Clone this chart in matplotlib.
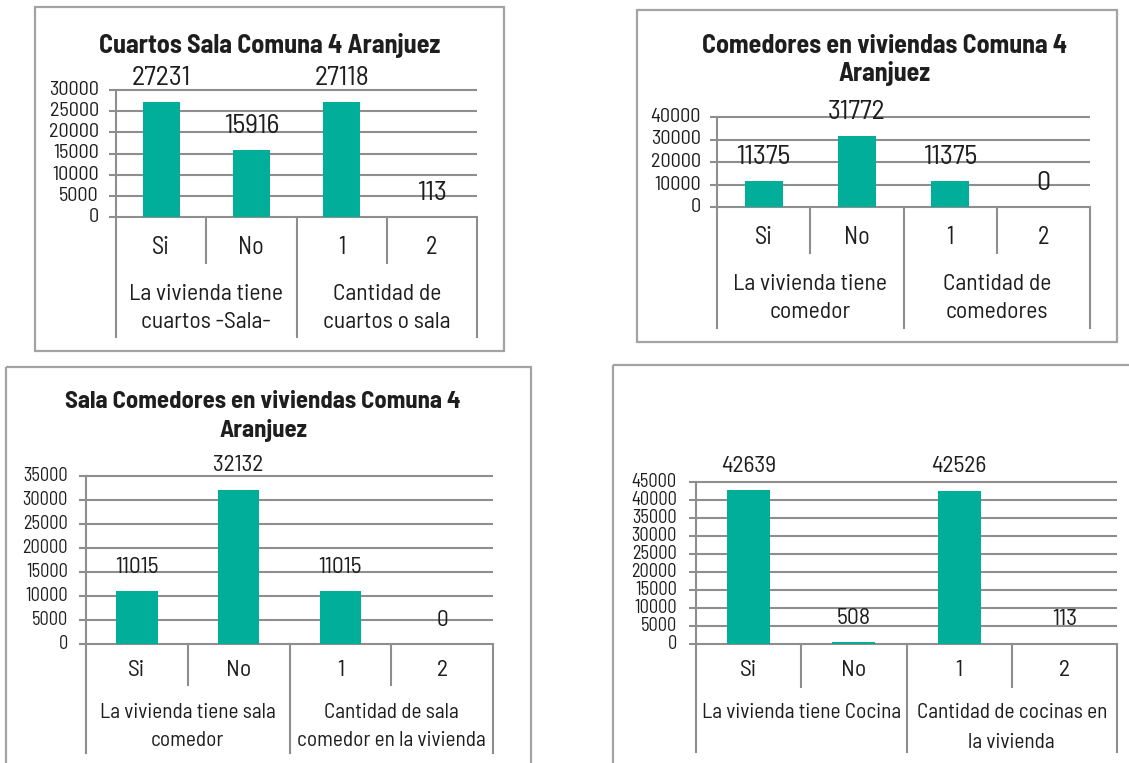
import matplotlib
matplotlib.use("Agg")
import matplotlib.pyplot as plt
from matplotlib.patches import Rectangle
from matplotlib.transforms import Affine2D, Bbox, TransformedBbox, blended_transform_factory

plt.rcParams['font.family'] = ['Barlow Semi Condensed', 'DejaVu Sans']

W, H = 1129, 763
TEAL = '#00AE9A'
GRID = '#8E8E8E'
EDGE = '#A3A3A3'
INK = '#1E1E1E'

# ---- data -------------------------------------------------------------
categories = ['Si', 'No', '1', '2']

cuartos_title = 'Cuartos Sala Comuna 4 Aranjuez'
cuartos_groups = ['La vivienda tiene\ncuartos -Sala-', 'Cantidad de\ncuartos o sala']
cuartos_values = [27231, 15916, 27118, 113]
cuartos_ticks = [0, 5000, 10000, 15000, 20000, 25000, 30000]

comedores_title = 'Comedores en viviendas Comuna 4\nAranjuez'
comedores_groups = ['La vivienda tiene\ncomedor', 'Cantidad de\ncomedores']
comedores_values = [11375, 31772, 11375, 0]
comedores_ticks = [0, 10000, 20000, 30000, 40000]

sala_title = 'Sala Comedores en viviendas Comuna 4\nAranjuez'
sala_groups = ['La vivienda tiene sala\ncomedor', 'Cantidad de sala\ncomedor en la vivienda']
sala_values = [11015, 32132, 11015, 0]
sala_ticks = [0, 5000, 10000, 15000, 20000, 25000, 30000, 35000]

cocina_title = ''
cocina_groups = ['La vivienda tiene Cocina', 'Cantidad de cocinas en\nla vivienda']
cocina_values = [42639, 508, 42526, 113]
cocina_ticks = [0, 5000, 10000, 15000, 20000, 25000, 30000, 35000, 40000, 45000]

# ---- layout (pixel units, origin top-left) ----------------------------
layouts = [
    dict(box=(35, 7, 504, 351), plot=(116, 477, 90, 217), tick_right=99,
         short=263, long=337, cat_y=247, grp_y=295, grp_dy=27,
         title_xy=(270, 45), title_dy=27, fs_tick=14.5, fs_val=20, fs_cat=17.5,
         fs_grp=17, fs_title=18.8, clip_top=None),
    dict(box=(637, 10, 1117, 342), plot=(717, 1090, 117, 207), tick_right=701,
         short=253, long=328, cat_y=238, grp_y=284, grp_dy=28,
         title_xy=(885, 46), title_dy=27, fs_tick=14.5, fs_val=20, fs_cat=17.5,
         fs_grp=17, fs_title=18.7, clip_top=100),
    dict(box=(6, 367, 531, 800), plot=(86, 493, 476, 644), tick_right=68,
         short=685, long=753, cat_y=670, grp_y=713, grp_dy=28,
         title_xy=(263, 402), title_dy=28, fs_tick=13.2, fs_val=16.8, fs_cat=17,
         fs_grp=15.3, fs_title=17.8, clip_top=None),
    dict(box=(613, 365, 1200, 800), plot=(696, 1117, 482, 644), tick_right=677,
         short=687, long=752, cat_y=671, grp_y=713, grp_dy=29,
         title_xy=(865, 400), title_dy=27, fs_tick=13.2, fs_val=17, fs_cat=17,
         fs_grp=15.4, fs_title=18, clip_top=None),
]

panels = [
    (cuartos_title, cuartos_groups, cuartos_values, cuartos_ticks),
    (comedores_title, comedores_groups, comedores_values, comedores_ticks),
    (sala_title, sala_groups, sala_values, sala_ticks),
    (cocina_title, cocina_groups, cocina_values, cocina_ticks),
]

fig = plt.figure(figsize=(W / 100, H / 100), dpi=100)
fig.patch.set_facecolor('white')
pix = Affine2D().scale(1 / W, -1 / H).translate(0, 1) + fig.transFigure
PX_PT = 72 / 100.0


def draw_panel(title, groups, values, ticks, lay):
    bx0, by0, bx1, by1 = lay['box']
    fig.patches.append(Rectangle((bx0, by0), bx1 - bx0, by1 - by0, transform=pix,
                                 fill=False, edgecolor=EDGE, lw=1.6, zorder=0))
    x0, x1, ytop, ybot = lay['plot']
    ax = fig.add_axes([x0 / W, 1 - ybot / H, (x1 - x0) / W, (ybot - ytop) / H])
    ax.set_xlim(-0.5, len(categories) - 0.5)
    ax.set_ylim(0, ticks[-1])
    ax.axis('off')

    gx = blended_transform_factory(ax.transAxes, ax.transData)
    ext = 7 / (x1 - x0)
    for t in ticks:
        ax.plot([-ext, 1], [t, t], transform=gx, color=GRID, lw=1.5,
                clip_on=False, zorder=1, solid_capstyle='butt')
        ax.text(lay['tick_right'], t, f'{t}', transform=blended_transform_factory(pix, ax.transData),
                ha='right', va='center', fontsize=lay['fs_tick'], color=INK)

    ax.bar(range(len(categories)), values, width=0.41, color=TEAL, zorder=2)

    vx = blended_transform_factory(ax.transData, pix)
    # vertical separators of the two-level category axis
    ax.plot([-0.5, -0.5], [ytop, lay['long']], transform=vx, color=GRID, lw=1.5,
            clip_on=False, zorder=1)
    for i, xs in enumerate([0.5, 1.5, 2.5, 3.5]):
        bottom = lay['short'] if i % 2 == 0 else lay['long']
        ax.plot([xs, xs], [ybot, bottom], transform=vx, color=GRID, lw=1.5,
                clip_on=False, zorder=1)

    for i, (c, v) in enumerate(zip(categories, values)):
        ax.text(i, lay['cat_y'], c, transform=vx, ha='center', va='center',
                fontsize=lay['fs_cat'], color=INK)
        lbl = ax.annotate(f'{v}', xy=(i, v), xytext=(0, 24 * PX_PT),
                          textcoords='offset points', ha='center', va='center',
                          fontsize=lay['fs_val'], color=INK, zorder=3,
                          annotation_clip=False)
        if lay['clip_top'] is not None:
            bb = TransformedBbox(Bbox([[0, lay['clip_top']], [W, H]]), pix)
            lbl.set_clip_box(bb)
            lbl.set_clip_on(True)

    for g, text in enumerate(groups):
        for k, line in enumerate(text.split('\n')):
            ax.text(0.5 + 2 * g, lay['grp_y'] + k * lay['grp_dy'], line, transform=vx,
                    ha='center', va='center', fontsize=lay['fs_grp'], color=INK)

    if title:
        tx, ty = lay['title_xy']
        for k, line in enumerate(title.split('\n')):
            fig.text(tx, ty + k * lay['title_dy'], line, transform=pix, ha='center',
                     va='center', fontsize=lay['fs_title'], fontweight='bold', color=INK)


for (title, groups, values, ticks), lay in zip(panels, layouts):
    draw_panel(title, groups, values, ticks, lay)

fig.savefig('out.png', dpi=100, facecolor='white')
